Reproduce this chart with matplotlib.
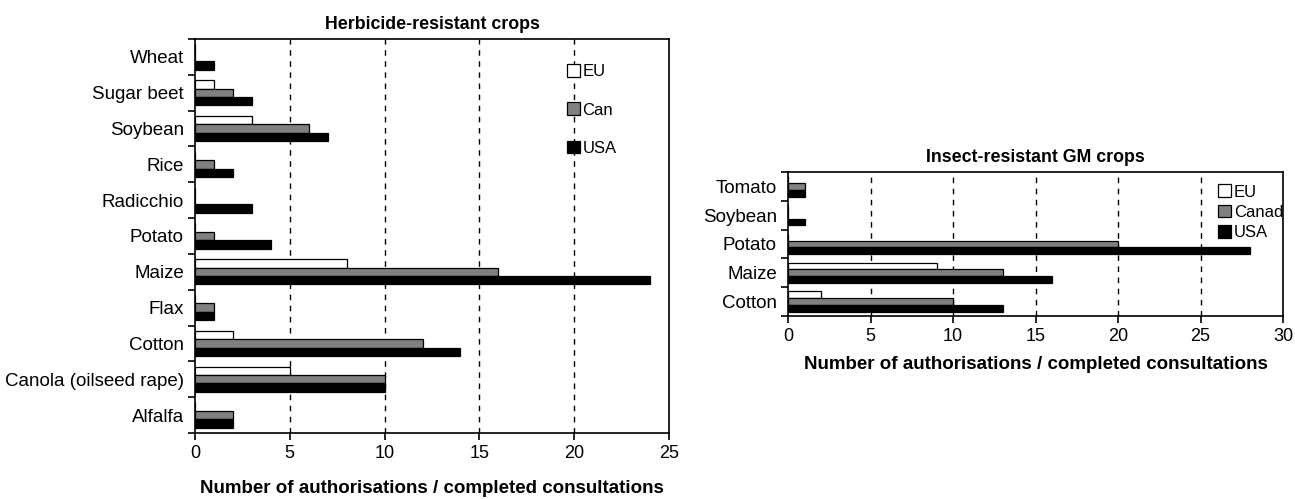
import numpy as np
import matplotlib.pyplot as plt

plt.rcParams['font.family'] = ['Liberation Sans', 'DejaVu Sans']

# Herbicide-resistant crops (bottom to top)
herb_crops = ["Alfalfa", "Canola (oilseed rape)", "Cotton", "Flax", "Maize",
              "Potato", "Radicchio", "Rice", "Soybean", "Sugar beet", "Wheat"]
herb_eu = [0, 5, 2, 0, 8, 0, 0, 0, 3, 1, 0]
herb_can = [2, 10, 12, 1, 16, 1, 0, 1, 6, 2, 0]
herb_usa = [2, 10, 14, 1, 24, 4, 3, 2, 7, 3, 1]

# Insect-resistant GM crops (bottom to top)
ins_crops = ["Cotton", "Maize", "Potato", "Soybean", "Tomato"]
ins_eu = [2, 9, 0, 0, 0]
ins_can = [10, 13, 20, 0, 1]
ins_usa = [13, 16, 28, 1, 1]

colors = ["white", "#808080", "black"]


def draw(ax, crops, series, labels, xmax, title, xpad):
    y = np.arange(len(crops))
    h = 0.235
    offs = [h, 0, -h]
    for vals, c, lab, o in zip(series, colors, labels, offs):
        ax.barh(y + o, vals, height=h, color=c, edgecolor="black",
                linewidth=0.9, label=lab, zorder=3)
    ax.set_ylim(-0.5, len(crops) - 0.5)
    ax.set_xlim(0, xmax)
    ax.set_xticks(np.arange(0, xmax + 1, 5))
    ax.set_yticks(y)
    ax.set_yticklabels(crops, fontsize=13.5)
    ax.set_yticks(np.arange(-0.5, len(crops), 1), minor=True)
    ax.tick_params(axis="y", which="major", length=0, pad=8)
    ax.tick_params(axis="y", which="minor", length=5, width=1.2, direction="out")
    ax.tick_params(axis="x", labelsize=13, length=5, width=1.2, direction="out")
    for gx in np.arange(5, xmax, 5):
        ax.axvline(gx, color="black", linestyle=(0, (4, 4)), linewidth=1, zorder=1)
    for s in ax.spines.values():
        s.set_linewidth(1.2)
    ax.set_title(title, fontsize=12.8, fontweight="bold", pad=7)
    ax.set_xlabel("Number of authorisations / completed consultations",
                  fontsize=13.5, fontweight="bold", labelpad=xpad)
    return ax


fig = plt.figure(figsize=(12.95, 4.99), dpi=100)
ax1 = fig.add_axes([195 / 1295, 1 - 433 / 499, 474 / 1295, 394 / 499])
ax2 = fig.add_axes([788 / 1295, 1 - 316 / 499, 495 / 1295, 144 / 499])

draw(ax1, herb_crops, [herb_eu, herb_can, herb_usa], ["EU", "Can", "USA"], 25,
     "Herbicide-resistant crops", 13)
draw(ax2, ins_crops, [ins_eu, ins_can, ins_usa], ["EU", "Canad", "USA"], 30,
     "Insect-resistant GM crops", 8)

ax1.legend(loc="upper left", bbox_to_anchor=(0.77, 0.953), frameon=False,
           fontsize=12, handlelength=0.8, handleheight=0.8, handletextpad=0.15,
           labelspacing=1.38, borderaxespad=0)
ax2.legend(loc="upper left", bbox_to_anchor=(0.855, 0.96), frameon=False,
           fontsize=12, handlelength=0.8, handleheight=0.8, handletextpad=0.15,
           labelspacing=0.3, borderaxespad=0)

fig.savefig("out.png", dpi=100)
